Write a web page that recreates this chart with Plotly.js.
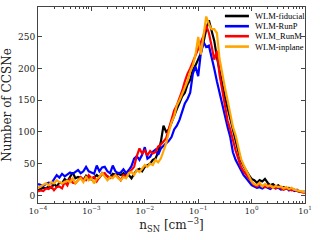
<!DOCTYPE html>
<html>
<head>
<meta charset="utf-8">
<script src="https://cdn.plot.ly/plotly-3.0.1.min.js"></script>
<style>html,body{margin:0;padding:0;background:#fff;}#chart{width:320px;height:240px;}</style>
</head>
<body>
<div id="chart"></div>
<script>
// log10 of n_SN bin centres
var logN = [-4.00,-3.95,-3.90,-3.85,-3.80,-3.75,-3.70,-3.65,-3.60,-3.55,
 -3.50,-3.45,-3.40,-3.35,-3.30,-3.25,-3.20,-3.15,-3.10,-3.05,
 -3.00,-2.95,-2.90,-2.85,-2.80,-2.75,-2.70,-2.65,-2.60,-2.55,
 -2.50,-2.45,-2.40,-2.35,-2.30,-2.25,-2.20,-2.15,-2.10,-2.05,
 -2.00,-1.95,-1.90,-1.85,-1.80,-1.75,-1.70,-1.65,-1.60,-1.55,
 -1.50,-1.45,-1.40,-1.35,-1.30,-1.25,-1.20,-1.15,-1.10,-1.05,
 -1.00,-0.95,-0.90,-0.85,-0.80,-0.75,-0.70,-0.65,-0.60,-0.55,
 -0.50,-0.45,-0.40,-0.35,-0.30,-0.25,-0.20,-0.15,-0.10,-0.05,
  0.00, 0.05, 0.10, 0.15, 0.20, 0.25, 0.30, 0.35, 0.40, 0.45,
  0.50, 0.55, 0.60, 0.65, 0.70, 0.75, 0.80, 0.85, 0.90, 0.95, 1.00];

var fiducial = [8,10,12,11,14,12,18,14,20,19,
 26,22,28,36,27,29,28,24,31,27,
 25,29,32,28,35,32,30,28,34,33,
 34,32,35,30,32,27,34,40,42,38,
 45,48,50,56,58,68,84,110,100,104,
 115,128,136,146,156,162,175,182,198,205,
 214,224,242,262,276,258,244,218,196,172,
 155,138,120,100,87,70,55,46,38,32,
 26,24,20,24,22,26,20,16,18,14,
 16,12,13,11,12,10,9,7,6,5,5];

var runP = [18,17,15,18,20,19,26,32,28,34,
 30,33,36,34,37,40,35,38,45,38,
 36,34,47,38,44,45,38,35,47,38,
 35,36,41,35,40,46,58,62,56,64,
 76,58,61,69,72,64,74,78,82,86,
 92,104,110,119,132,145,152,162,192,203,
 188,225,242,234,236,220,200,180,162,140,
 124,108,92,68,56,48,38,32,27,22,
 16,14,12,13,11,14,12,10,13,11,
 12,9,10,12,8,10,7,9,6,5,6];

var runM = [6,8,7,11,10,14,8,13,14,11,
 21,16,27,20,19,24,29,25,24,32,
 27,29,22,29,33,35,30,27,29,32,
 29,24,32,29,35,40,45,62,74,66,
 71,63,70,66,68,77,80,85,90,105,
 118,134,142,152,165,180,192,200,210,220,
 232,242,252,268,256,236,214,228,190,166,
 145,118,104,85,71,58,45,38,32,26,
 20,16,14,17,15,13,16,12,14,11,
 14,12,9,11,10,8,9,7,6,5,4];

var inplane = [12,14,16,19,16,21,19,24,21,19,
 21,23,21,27,19,24,27,21,29,24,
 27,19,26,29,35,29,24,29,27,32,
 27,24,29,27,35,37,32,40,37,42,
 48,45,50,48,56,52,58,70,82,100,
 115,125,142,150,160,168,180,195,205,222,
 250,222,255,282,270,262,262,256,215,190,
 170,150,131,108,95,76,58,48,40,30,
 22,18,16,20,14,18,14,16,12,15,
 13,14,11,13,10,12,9,8,7,6,5];

var seriesNames = ['WLM-fiducial','WLM-RunP','WLM_RunM','WLM-inplane'];
var seriesColors = ['#000000','#0000ff','#ff0000','#ffa500'];
var seriesData = [fiducial, runP, runM, inplane];

var xTickVals = [1e-4,1e-3,1e-2,1e-1,1e0,1e1];
var xTickText = ['10<sup>−4</sup>','10<sup>−3</sup>','10<sup>−2</sup>','10<sup>−1</sup>','10<sup>0</sup>','10<sup>1</sup>'];
var yTickVals = [0,50,100,150,200,250];

var nVals = logN.map(function(e){return Math.pow(10,e);});
var traces = seriesData.map(function(d,k){
  return {x:nVals, y:d, type:'scatter', mode:'lines', name:seriesNames[k],
          line:{color:seriesColors[k], width:2.2}, showlegend:false};
});

// compact legend (matplotlib style) built from the series names/colours
var legRowY = [0.954, 0.902, 0.851, 0.798];
var shapes = [], annotations = [];
seriesNames.forEach(function(nm,k){
  shapes.push({type:'line', xref:'paper', yref:'paper', x0:0.700, x1:0.790,
               y0:legRowY[k], y1:legRowY[k], line:{color:seriesColors[k], width:2.6}});
  annotations.push({xref:'paper', yref:'paper', x:0.805, y:legRowY[k], xanchor:'left', yanchor:'middle',
                    text:nm, showarrow:false, font:{family:'Liberation Serif, serif', size:8.5, color:'#000'}});
});

var serif = 'DejaVu Serif, serif';
var layout = {
  width:320, height:240,
  margin:{l:38, r:15, t:7, b:37},
  paper_bgcolor:'#fff', plot_bgcolor:'#fff',
  font:{family:serif, size:9, color:'#222'},
  showlegend:false,
  shapes:shapes, annotations:annotations,
  xaxis:{type:'log', range:[-4,1], tickvals:xTickVals, ticktext:xTickText,
         ticks:'inside', ticklen:4, tickcolor:'#444', showline:true, linecolor:'#444', linewidth:1,
         mirror:'ticks', showgrid:false, zeroline:false,
         minor:{dtick:'D1', ticks:'inside', ticklen:2, tickcolor:'#444', showgrid:false},
         tickfont:{family:serif, size:8, color:'#222'},
         title:{text:'n<sub>SN</sub> [cm<sup>−3</sup>]', font:{family:serif, size:12, color:'#222'}, standoff:6}},
  yaxis:{range:[-12,297], tickvals:yTickVals, ticks:'inside', ticklen:4, tickcolor:'#444',
         showline:true, linecolor:'#444', linewidth:1, mirror:'ticks', showgrid:false, zeroline:false,
         tickfont:{family:serif, size:9, color:'#222'},
         title:{text:'Number of CCSNe', font:{family:serif, size:12, color:'#222'}, standoff:4}}
};
Plotly.newPlot('chart', traces, layout, {displayModeBar:false, staticPlot:true});
</script>
</body>
</html>
